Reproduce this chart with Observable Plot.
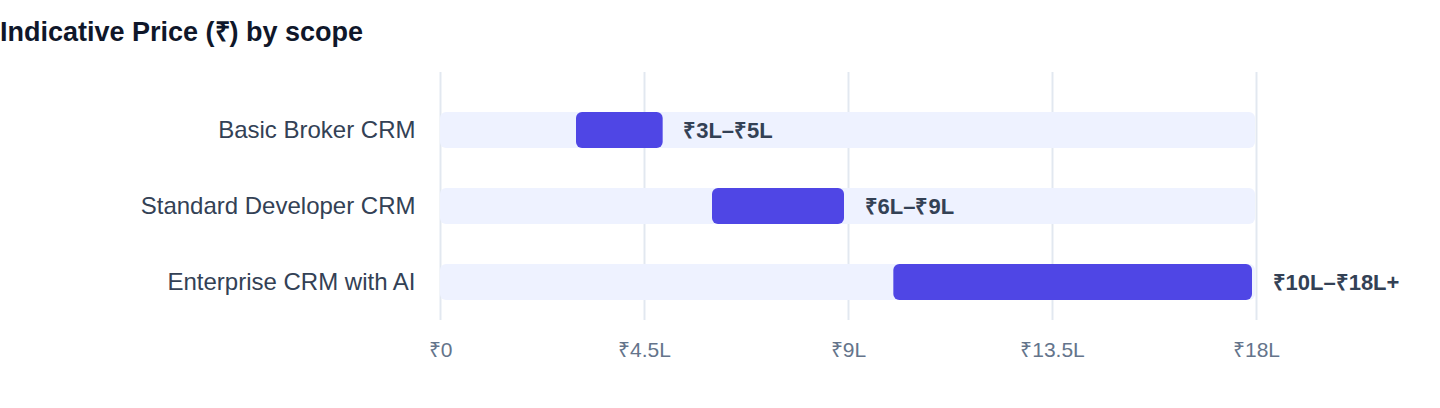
<!DOCTYPE html>
<html>
<head>
<meta charset="utf-8">
<script src="https://cdn.jsdelivr.net/npm/d3@7"></script>
<script src="https://cdn.jsdelivr.net/npm/@observablehq/plot@0.6"></script>
<style>
  html, body { margin: 0; padding: 0; background: #ffffff; }
  body { width: 1440px; height: 408px; overflow: hidden; font-family: "Liberation Sans", Arial, sans-serif; }
  #title { margin: 0; padding-top: 19px; height: 37px; line-height: 26px; font-size: 27px; font-weight: 700; color: #0f172a; white-space: nowrap; }
  #chart svg { display: block; }
</style>
</head>
<body>
<div id="title">Indicative Price (₹) by scope</div>
<div id="chart"></div>
<script>
const scopes = ["Basic Broker CRM", "Standard Developer CRM", "Enterprise CRM with AI"];
const lows = [3, 6, 10];
const highs = [5, 9, 18];
const rangeLabels = ["₹3L–₹5L", "₹6L–₹9L", "₹10L–₹18L+"];
const xTicks = [0, 4.5, 9, 13.5, 18];
const xMax = 18;

const rows = scopes.map((name, i) => ({name, lo: lows[i], hi: highs[i], label: rangeLabels[i]}));

const chart = Plot.plot({
  width: 1440,
  height: 352,
  marginTop: 16,
  marginBottom: 88,
  marginLeft: 440,
  marginRight: 184,
  style: {fontFamily: "'Liberation Sans', Arial, sans-serif", background: "#ffffff"},
  x: {domain: [0, xMax]},
  y: {domain: scopes, paddingInner: 0.5263, paddingOuter: 0.3947, align: 0.667},
  marks: [
    Plot.ruleX(xTicks, {stroke: "#e2e8f0", strokeWidth: 2}),
    Plot.barX(rows, {x1: 0, x2: xMax, y: "name", fill: "#eef2ff", rx: 6, insetRight: 1}),
    Plot.barX(rows, {x1: "lo", x2: "hi", y: "name", fill: "#4f46e5", rx: 6, insetRight: 4}),
    Plot.text(rows, {x: "hi", y: "name", text: "label", dx: 16, textAnchor: "start", fontWeight: "bold", fontSize: 22, fill: "#334155"}),
    Plot.axisX({ticks: xTicks, tickSize: 0, tickPadding: 22, fontSize: 21, fill: "#64748b",
      tickFormat: d => d === 0 ? "₹0" : `₹${d}L`, label: null}),
    Plot.axisY({tickSize: 0, tickPadding: 25, fontSize: 24, fill: "#334155", label: null})
  ]
});
document.getElementById("chart").appendChild(chart);
</script>
</body>
</html>
